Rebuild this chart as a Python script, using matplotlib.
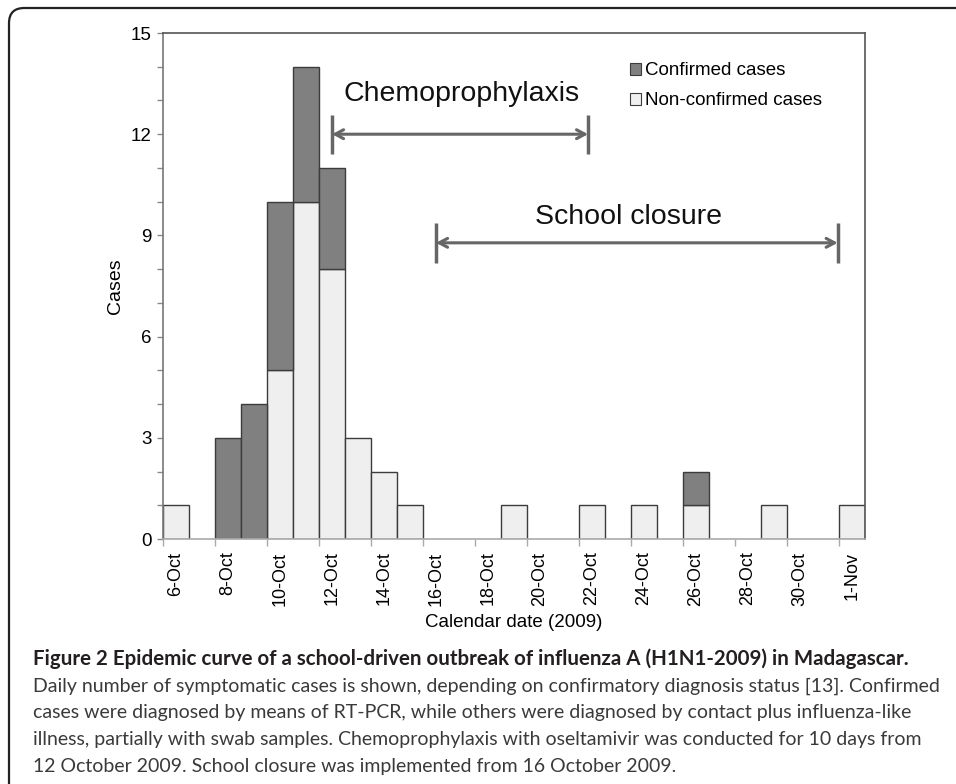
import matplotlib
matplotlib.use("Agg")
import matplotlib.pyplot as plt
import numpy as np
import pandas as pd
from matplotlib.patches import FancyBboxPatch, Patch
from matplotlib.ticker import MultipleLocator, FixedLocator, NullFormatter, FixedFormatter

plt.rcParams['font.family'] = ['Liberation Sans', 'DejaVu Sans']

# daily counts, 6-Oct-2009 .. 1-Nov-2009
dates = pd.date_range("2009-10-06", "2009-11-01", freq="D")
non_confirmed = [1, 0, 0, 0, 5, 10, 8, 3, 2, 1, 0, 0, 0, 1, 0, 0, 1, 0, 1, 0, 1, 0, 0, 1, 0, 0, 1]
confirmed = [0, 0, 3, 4, 5, 4, 3, 0, 0, 0, 0, 0, 0, 0, 0, 0, 0, 0, 0, 0, 1, 0, 0, 0, 0, 0, 0]
day_labels = [f"{d.day}-{d:%b}" for d in dates]

# intervention periods (day index from 6-Oct)
chemo_span = (6.5, 16.35)
chemo_y = 12.0
school_span = (10.5, 25.95)
school_y = 8.78

caption_title = "Figure 2 Epidemic curve of a school-driven outbreak of influenza A (H1N1-2009) in Madagascar."
caption_lines = [
    "Daily number of symptomatic cases is shown, depending on confirmatory diagnosis status [13]. Confirmed",
    "cases were diagnosed by means of RT-PCR, while others were diagnosed by contact plus influenza-like",
    "illness, partially with swab samples. Chemoprophylaxis with oseltamivir was conducted for 10 days from",
    "12 October 2009. School closure was implemented from 16 October 2009.",
]

W, H = 956, 784
fig = plt.figure(figsize=(W / 100, H / 100), dpi=100)

# rounded frame around the whole figure (cut at right/bottom edge)
frame = FancyBboxPatch((9 / W, -20 / H), 1.2, (H - 8 + 20) / H,
                       boxstyle="round,pad=0,rounding_size=0.016",
                       transform=fig.transFigure, fill=False,
                       ec="#222222", lw=1.6, mutation_aspect=W / H)
fig.patches.append(frame)

ax = fig.add_axes([163 / W, 1 - 539 / H, 702 / W, 506 / H])

x = np.arange(len(dates))
nc = np.array(non_confirmed)
cf = np.array(confirmed)

m = nc > 0
ax.bar(x[m], nc[m], width=1.0, align="edge", color="#efefef",
       edgecolor="#3c3c3c", linewidth=1.0, zorder=2)
m = cf > 0
ax.bar(x[m], cf[m], bottom=nc[m], width=1.0, align="edge", color="#808080",
       edgecolor="#3c3c3c", linewidth=1.0, zorder=2)

ax.set_xlim(0, len(dates))
ax.set_ylim(0, 15)

# y axis: labelled every 3, minor every 1
ax.yaxis.set_major_locator(MultipleLocator(3))
ax.yaxis.set_minor_locator(MultipleLocator(1))
ax.tick_params(axis="y", which="both", direction="out", length=4, width=1,
               color="#888888", labelsize=13.5, pad=4)

# x axis: tick marks at every 2nd day edge, labels centred on bars
ax.xaxis.set_major_locator(FixedLocator(x[::2]))
ax.xaxis.set_major_formatter(NullFormatter())
ax.xaxis.set_minor_locator(FixedLocator(x[::2] + 0.5))
ax.xaxis.set_minor_formatter(FixedFormatter(day_labels[::2]))
ax.tick_params(axis="x", which="major", direction="out", length=5, width=1, color="#aaaaaa")
ax.tick_params(axis="x", which="minor", length=0, labelsize=13, pad=9, labelrotation=90)

ax.spines["left"].set_color("#777777")
ax.spines["bottom"].set_color("#aaaaaa")
ax.spines["top"].set_color("#555555")
ax.spines["right"].set_color("#555555")
for s in ax.spines.values():
    s.set_linewidth(1.2)

ax.set_ylabel("Cases", fontsize=14, labelpad=5)
ax.set_xlabel("Calendar date (2009)", fontsize=13.5, labelpad=6)

# intervention arrows
arrow_col = "#666666"
for (x0, x1), y in [(chemo_span, chemo_y), (school_span, school_y)]:
    ax.annotate("", xy=(x1, y), xytext=(x0, y),
                arrowprops=dict(arrowstyle="<->,head_length=0.6,head_width=0.32",
                                color=arrow_col, lw=2.2, shrinkA=0, shrinkB=0))
    ax.vlines([x0, x1], y - 0.6, y + 0.58, color=arrow_col, lw=2.5)

ax.text(11.5, 13.2, "Chemoprophylaxis", fontsize=20.5, ha="center", va="center", color="#111111")
ax.text(17.9, 9.55, "School closure", fontsize=20.5, ha="center", va="center", color="#111111")

handles = [Patch(facecolor="#808080", edgecolor="#3c3c3c", lw=0.8),
           Patch(facecolor="#efefef", edgecolor="#3c3c3c", lw=0.8)]
ax.legend(handles, ["Confirmed cases", "Non-confirmed cases"], loc="upper left",
          bbox_to_anchor=(0.665, 0.942), frameon=False, fontsize=13.5,
          handlelength=0.6, handleheight=0.6, handletextpad=0.2,
          borderpad=0, borderaxespad=0, labelspacing=0.7)

# caption
fig.text(33 / W, 1 - 659 / H, caption_title, fontsize=14.8, fontweight="bold",
         family=["Lato", "DejaVu Sans"], color="#231f20", va="center", ha="left")
for i, line in enumerate(caption_lines):
    fig.text(33 / W, 1 - (686 + 26.7 * i) / H, line, fontsize=14,
             family=["Lato", "DejaVu Sans"], color="#3a3a3a", va="center", ha="left")

fig.savefig("out.png", dpi=100)
